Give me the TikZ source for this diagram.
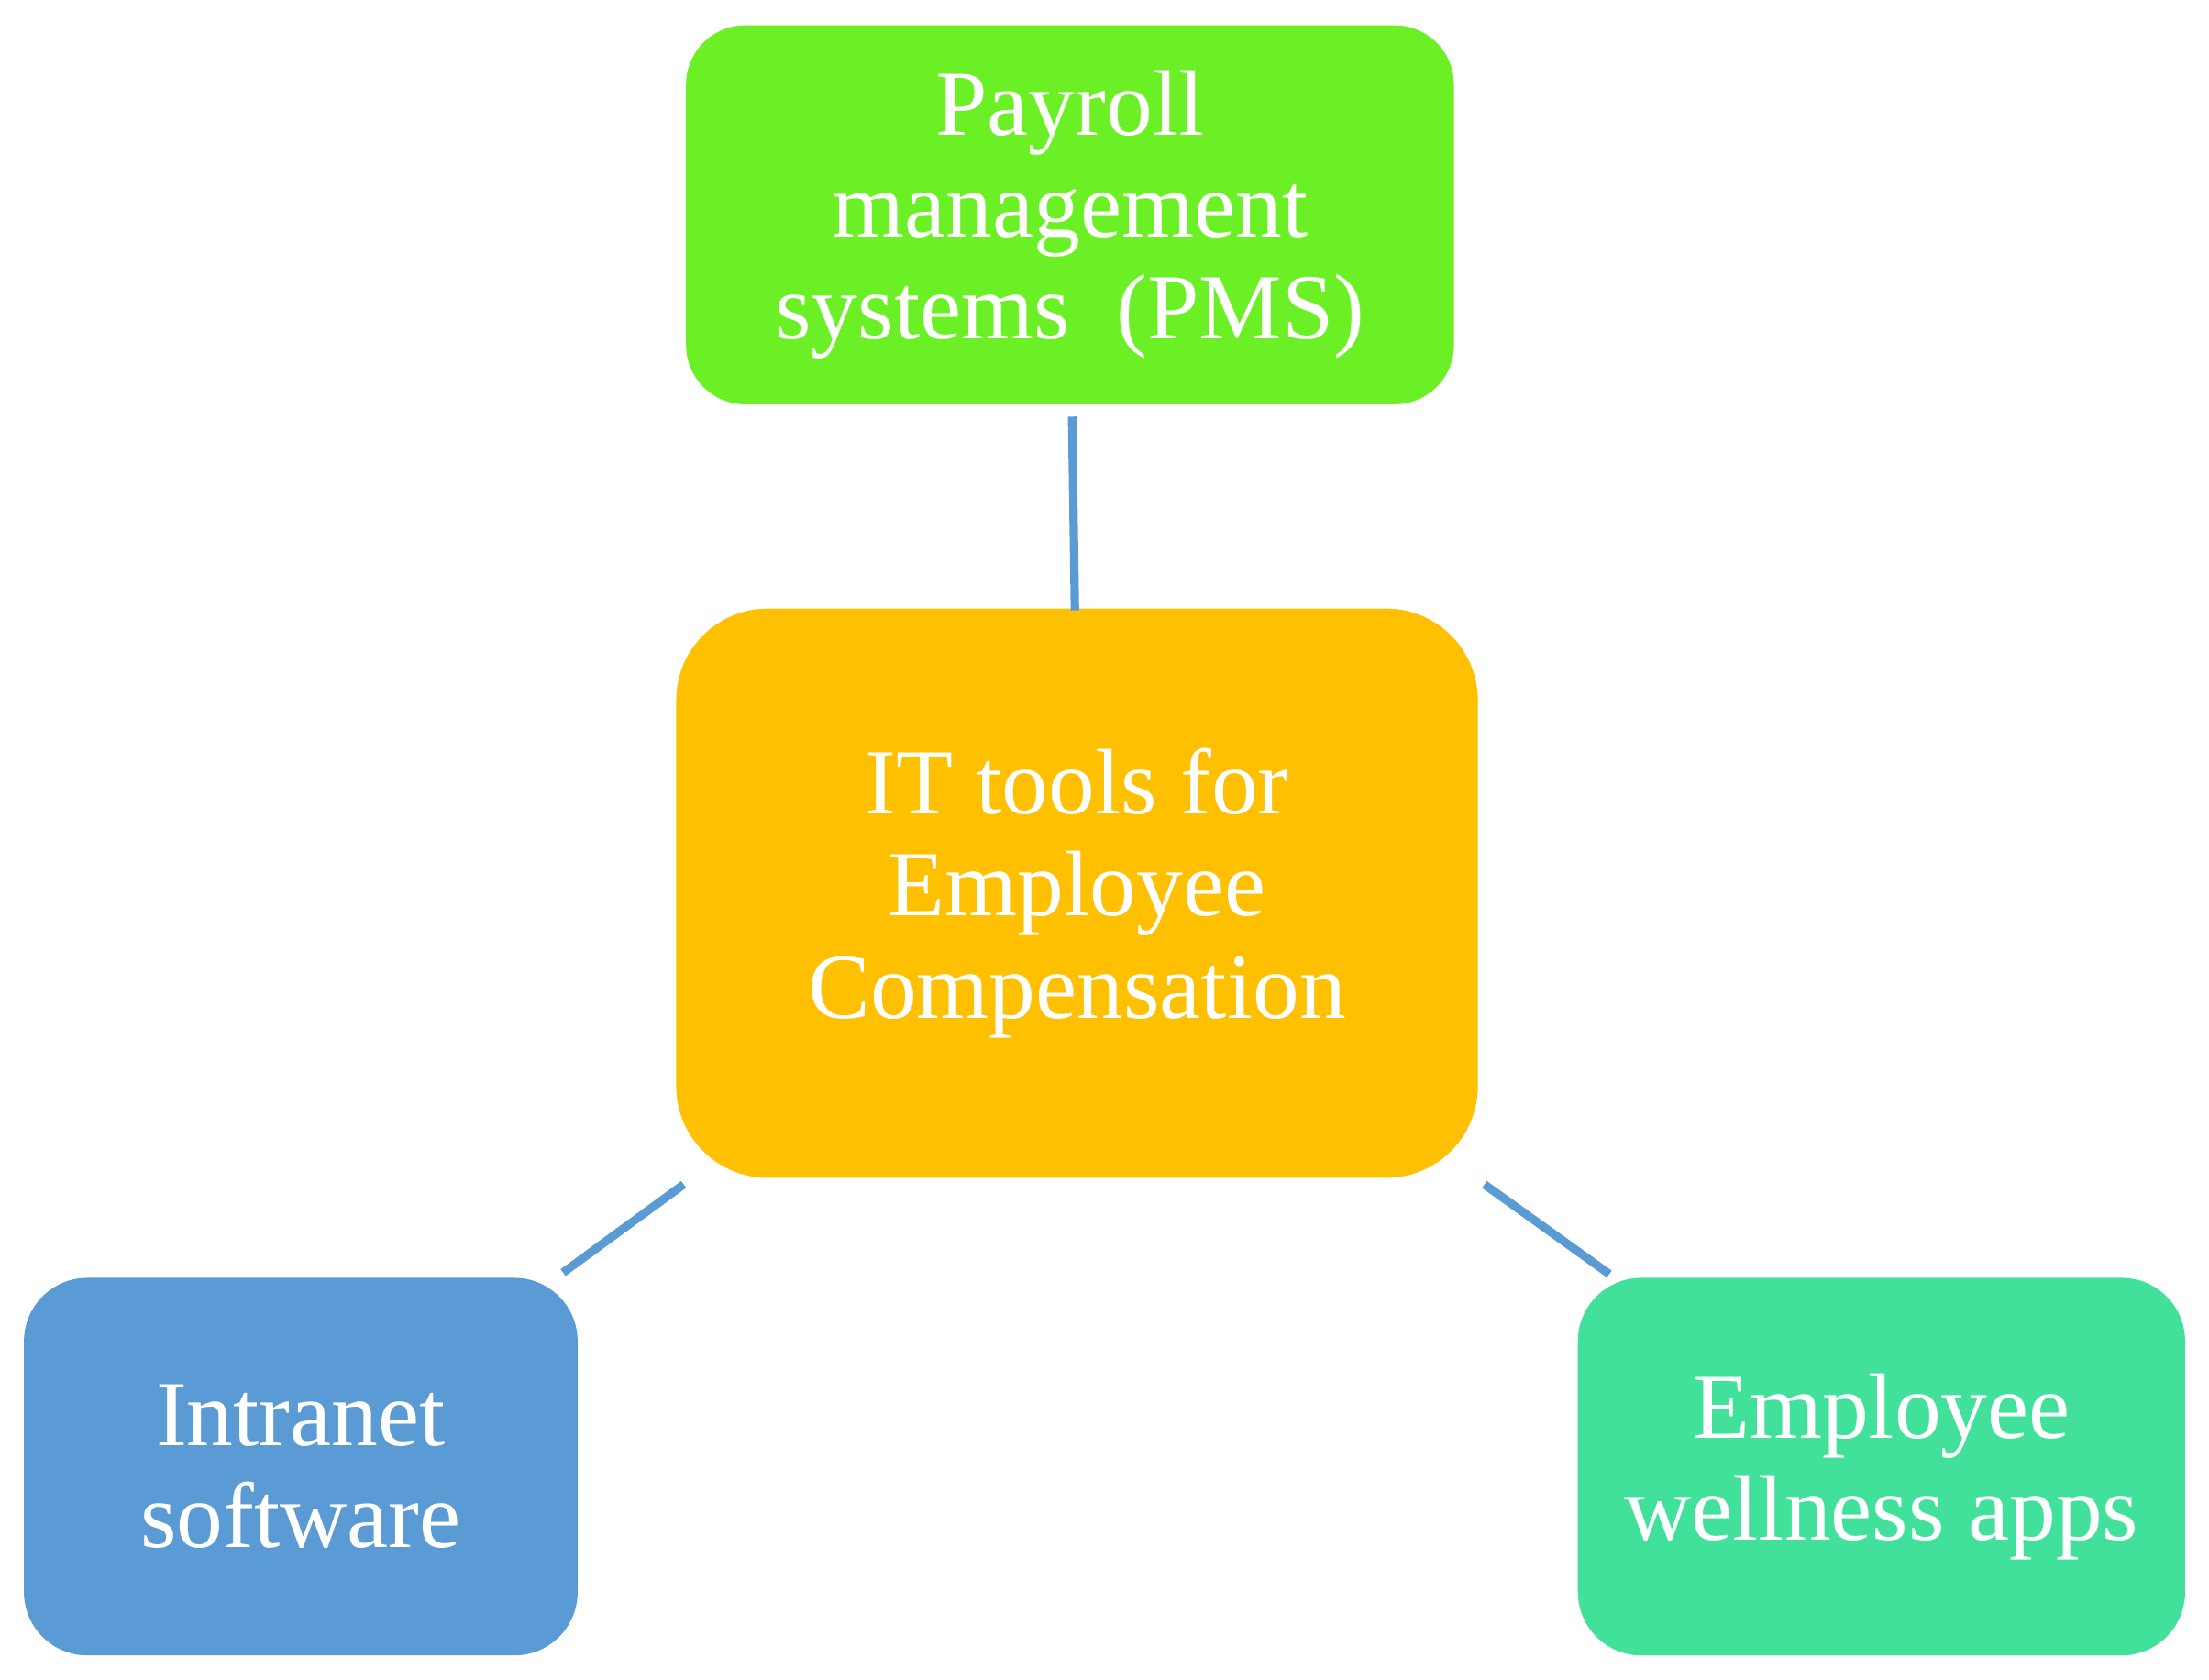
\documentclass[tikz,border=0pt]{standalone}
\usepackage{fontspec}
\setmainfont{Liberation Serif}
\usetikzlibrary{positioning}

\definecolor{pmsgreen}{RGB}{106,240,36}
\definecolor{hubgold}{RGB}{254,192,0}
\definecolor{intrablue}{RGB}{91,155,213}
\definecolor{wellteal}{RGB}{65,225,155}

\tikzset{
  toolbox/.style={rectangle, rounded corners=0.45cm, text=white, align=center,
    inner sep=0pt, font=\fontsize{18.8}{20.6}\selectfont},
  link/.style={draw=intrablue, line width=1.7pt}
}

\begin{document}
\begin{tikzpicture}

\useasboundingbox (0,0) rectangle (15.68,11.92);

% Central topic
\node[toolbox, fill=hubgold, rounded corners=0.65cm, minimum width=5.69cm, minimum height=4.04cm]
  (hub) at (7.645,5.58) {IT tools for\\Employee\\Compensation};

% Tools around it
\node[toolbox, fill=pmsgreen, rounded corners=0.42cm, minimum width=5.45cm, minimum height=2.69cm]
  (pms) at (7.595,10.395) {Payroll\\management\\systems~ (PMS)};
\node[toolbox, fill=intrablue, minimum width=3.93cm, minimum height=2.68cm]
  (intra) at (2.135,1.51) {Intranet\\software};
\node[toolbox, fill=wellteal, minimum width=4.31cm, minimum height=2.68cm]
  (well) at (13.355,1.51) {Employee\\wellness apps};

% Ends of the links
\coordinate (pmsend) at ([xshift=0.015cm, yshift=-0.08cm]pms.south);
\coordinate (hubtop) at ([xshift=-0.015cm, yshift=-0.02cm]hub.north);
\coordinate (hubsw) at ([xshift=0.06cm, yshift=-0.04cm]hub.south west);
\coordinate (intrane) at ([xshift=-0.11cm, yshift=0.03cm]intra.north east);
\coordinate (hubse) at ([xshift=0.04cm, yshift=-0.04cm]hub.south east);
\coordinate (wellnw) at ([xshift=0.23cm, yshift=0.02cm]well.north west);

% Links
\draw[link] (pmsend) -- (hubtop);
\draw[link] (hubsw) -- (intrane);
\draw[link] (hubse) -- (wellnw);

\end{tikzpicture}
\end{document}
